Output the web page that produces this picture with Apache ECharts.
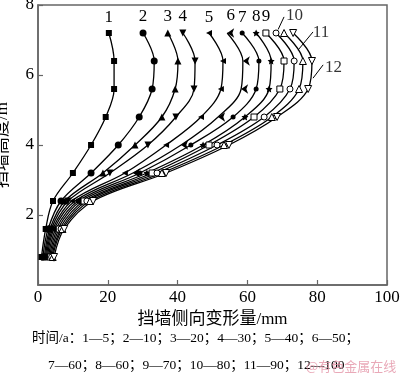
<!DOCTYPE html>
<html>
<head>
<meta charset="utf-8">
<script src="https://cdn.jsdelivr.net/npm/echarts@6/dist/echarts.min.js"></script>
<style>
html,body{margin:0;padding:0;background:#fff;}
#main{width:400px;height:378px;}
</style>
</head>
<body>
<div id="main"></div>
<script>
// 挡墙高度 (m)
var heights = [0.8, 1.6, 2.4, 3.2, 4.0, 4.8, 5.6, 6.4, 7.2];
// 各时间的侧向变形量 (mm)，自下而上
var c1  = [1.0, 2.2, 4.3, 10.0, 15.2, 19.4, 21.8, 21.8, 20.3];
var c2  = [1.4, 2.9, 6.6, 15.2, 23.0, 29.0, 32.7, 33.3, 30.1];
var c3  = [1.8, 3.4, 7.7, 18.6, 27.8, 35.5, 39.3, 40.1, 37.2];
var c4  = [2.1, 3.8, 8.6, 20.6, 31.5, 39.5, 44.7, 45.0, 41.5];
var c5  = [2.4, 4.2, 9.7, 24.9, 36.7, 46.7, 52.4, 53.0, 49.0];
var c6  = [2.7, 4.6, 10.6, 27.2, 41.0, 51.6, 58.2, 58.7, 54.2];
var c7  = [3.0, 5.1, 11.5, 29.2, 43.8, 55.9, 62.5, 63.3, 58.5];
var c8  = [3.3, 5.6, 12.3, 31.2, 47.3, 59.3, 66.2, 66.8, 62.5];
var c9  = [3.6, 6.1, 13.2, 32.7, 49.0, 61.9, 69.3, 70.5, 65.3];
var c10 = [3.9, 6.6, 14.0, 34.1, 51.3, 64.8, 72.2, 73.4, 68.2];
var c11 = [4.2, 7.0, 14.9, 35.5, 53.3, 67.0, 74.8, 75.9, 70.5];
var c12 = [4.6, 7.5, 15.8, 36.7, 54.7, 68.5, 77.4, 78.5, 73.1];
var curveNames = ['1','2','3','4','5','6','7','8','9','10','11','12'];
var legendLine1 = '时间/a：1—5；2—10；3—20；4—30；5—40；6—50；';
var legendLine2 = '7—60；8—60；9—70；10—80；11—90；12—100';
// 10、11、12 的引出标注
var tagNames = ['10', '11', '12'];
var tagX = [73.5, 81.1, 84.7];
var tagY = [7.71, 7.2, 6.2];
var leadFrom = [[70.5, 7.66], [78.8, 7.23], [81.7, 6.29]];
var leadTo   = [[68.8, 7.30], [74.5, 6.71], [78.8, 5.91]];

var curves = [c1,c2,c3,c4,c5,c6,c7,c8,c9,c10,c11,c12];
var starPath = 'path://M0,-10L2.9,-4L9.5,-3.1L4.7,1.5L5.9,8.1L0,5L-5.9,8.1L-4.7,1.5L-9.5,-3.1L-2.9,-4Z';
var symbols = [
	{s:'rect', size:6, rot:0, fill:true},
	{s:'circle', size:7, rot:0, fill:true},
	{s:'triangle', size:7, rot:0, fill:true},
	{s:'triangle', size:7, rot:180, fill:true},
	{s:'triangle', size:6, rot:90, fill:true},
	{s:'arrow', size:7, rot:90, fill:true},
	{s:'circle', size:5, rot:0, fill:true},
	{s:starPath, size:7, rot:0, fill:true},
	{s:'rect', size:6, rot:0, fill:false},
	{s:'circle', size:6, rot:0, fill:false},
	{s:'triangle', size:7, rot:0, fill:false},
	{s:'triangle', size:7, rot:180, fill:false}
];
var serif = '"Liberation Serif", "Times New Roman", "Noto Sans CJK SC", serif';

var series = [];
for (var k = 0; k < curves.length; k++) {
	var pts = [];
	for (var i = 0; i < heights.length; i++) {
		var p = {value: [curves[k][i], heights[i]]};
		if (i == heights.length - 1 && k < 9) {
			p.label = {
				show: true, position: 'top', distance: 4,
				formatter: curveNames[k],
				color: '#000', fontSize: 17, fontFamily: serif
			};
		}
		pts.push(p);
	}
	var sym = symbols[k];
	series.push({
		name: curveNames[k],
		type: 'line',
		smooth: 0.35,
		symbol: sym.s,
		symbolSize: sym.size,
		symbolRotate: sym.rot,
		showAllSymbol: true,
		lineStyle: {color: '#000', width: 1.3},
		itemStyle: {
			color: sym.fill ? '#000' : '#fff',
			borderColor: '#000',
			borderWidth: sym.fill ? 0 : 1
		},
		z: 3,
		data: pts
	});
}

var tagData = [], leadData = [];
for (var t = 0; t < tagNames.length; t++) {
	tagData.push({value: [tagX[t], tagY[t]], name: tagNames[t]});
	leadData.push([{coord: leadFrom[t]}, {coord: leadTo[t]}]);
}
series.push({
	type: 'scatter',
	symbolSize: 0,
	silent: true,
	label: {
		show: true, position: 'inside',
		formatter: '{b}', color: '#000', fontSize: 17, fontFamily: serif
	},
	data: tagData,
	markLine: {
		silent: true,
		symbol: 'none',
		label: {show: false},
		lineStyle: {color: '#000', width: 1, type: 'solid'},
		data: leadData
	}
});

var myChart = echarts.init(document.getElementById('main'));
var option = {
	animation: false,
	backgroundColor: '#fff',
	grid: {
		left: 38, right: 13, top: 5, bottom: 93,
		show: true, borderColor: '#666', borderWidth: 1.5,
		containLabel: false,
		outerBoundsMode: 'none'
	},
	xAxis: {
		type: 'value',
		min: 0, max: 100, interval: 20,
		name: '挡墙侧向变形量/mm',
		nameLocation: 'middle',
		nameGap: 26,
		nameTextStyle: {color: '#000', fontSize: 17, fontFamily: serif},
		axisLine: {show: true, lineStyle: {color: '#666', width: 1.5}},
		axisTick: {show: true, inside: true, length: 5, lineStyle: {color: '#666', width: 1.2}},
		axisLabel: {color: '#000', fontSize: 17, fontFamily: serif, margin: 4},
		splitLine: {show: false}
	},
	yAxis: {
		type: 'value',
		min: 0, max: 8, interval: 2,
		name: '挡墙高度/m',
		nameLocation: 'middle',
		nameGap: 27,
		nameRotate: 90,
		nameTextStyle: {color: '#000', fontSize: 17, fontFamily: serif},
		axisLine: {show: true, lineStyle: {color: '#666', width: 1.5}},
		axisTick: {show: true, inside: true, length: 5, lineStyle: {color: '#666', width: 1.2}},
		axisLabel: {color: '#000', fontSize: 17, fontFamily: serif, margin: 4, showMinLabel: false},
		splitLine: {show: false}
	},
	graphic: [
		{
			type: 'text', x: 32, y: 332,
			style: {text: legendLine1, fill: '#000', font: '13.5px ' + serif}
		},
		{
			type: 'text', x: 48, y: 359,
			style: {text: legendLine2, fill: '#000', font: '13.5px ' + serif}
		},
		{
			type: 'text', x: 306, y: 360,
			style: {text: '@有色金属在线', fill: 'rgba(225,140,160,0.75)', font: '13px "Noto Sans CJK SC", sans-serif'}
		}
	],
	series: series
};
myChart.setOption(option);
</script>
</body>
</html>
